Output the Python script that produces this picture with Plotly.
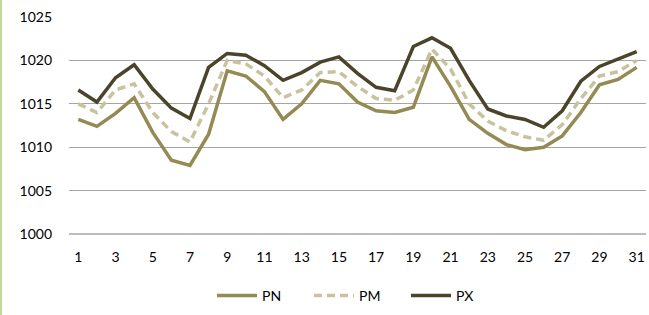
import plotly.graph_objects as go

days = list(range(1, 32))
pn = [1013.2, 1012.4, 1013.9, 1015.7, 1011.7, 1008.5, 1007.9, 1011.5, 1018.8, 1018.2,
      1016.4, 1013.2, 1015.0, 1017.7, 1017.3, 1015.2, 1014.2, 1014.0, 1014.6, 1020.4,
      1017.0, 1013.2, 1011.6, 1010.3, 1009.7, 1010.0, 1011.3, 1014.0, 1017.2, 1017.8, 1019.2]
pm = [1015.0, 1014.0, 1016.6, 1017.3, 1014.0, 1011.8, 1010.6, 1015.0, 1020.0, 1019.6,
      1018.2, 1015.7, 1016.6, 1018.6, 1018.7, 1017.0, 1015.6, 1015.4, 1016.6, 1021.3,
      1019.0, 1015.0, 1013.0, 1011.9, 1011.2, 1010.8, 1012.6, 1015.6, 1018.2, 1018.7, 1020.0]
px = [1016.6, 1015.2, 1018.0, 1019.5, 1016.7, 1014.5, 1013.3, 1019.2, 1020.8, 1020.6,
      1019.4, 1017.7, 1018.6, 1019.8, 1020.4, 1018.5, 1016.9, 1016.5, 1021.6, 1022.6,
      1021.4, 1017.7, 1014.4, 1013.6, 1013.2, 1012.3, 1014.2, 1017.6, 1019.3, 1020.2, 1021.0]
x_ticks = list(range(1, 32, 2))
y_ticks = [1000, 1005, 1010, 1015, 1020, 1025]

fig = go.Figure()
fig.add_trace(go.Scatter(x=days, y=pn, name="PN", mode="lines",
                         line=dict(color="#948A54", width=3.5)))
fig.add_trace(go.Scatter(x=days, y=pm, name="PM", mode="lines",
                         line=dict(color="#C9C29E", width=3.5, dash="8px,5px")))
fig.add_trace(go.Scatter(x=days, y=px, name="PX", mode="lines",
                         line=dict(color="#4A452A", width=3.5)))

fig.update_layout(
    width=649, height=315,
    margin=dict(l=69, r=3, t=17, b=81),
    paper_bgcolor="white", plot_bgcolor="white",
    font=dict(family="Lato, 'Open Sans', sans-serif", size=14, color="#000000"),
    showlegend=True,
    legend=dict(orientation="h", x=0.5, xanchor="center", y=-0.285, yanchor="middle",
                font=dict(size=14), itemwidth=40, entrywidth=42, traceorder="normal"),
    xaxis=dict(range=[0.5, 31.5], tickvals=x_ticks, showgrid=False, zeroline=False,
               showline=False, ticks="", ticklabelstandoff=13, fixedrange=True),
    yaxis=dict(range=[1000, 1025], tickvals=y_ticks, showgrid=True,
               gridcolor="#A6A6A6", gridwidth=1.3, zeroline=False, showline=False,
               ticks="", ticklabelstandoff=16, fixedrange=True),
    shapes=[dict(type="line", xref="paper", yref="paper", x0=0, x1=1, y0=0, y1=0,
                 line=dict(color="#A6A6A6", width=1.3)),
            dict(type="line", xref="paper", yref="paper", x0=-68/577, x1=-68/577,
                 y0=-81/217, y1=1 + 17/217, line=dict(color="#C3D69B", width=2))],
)

fig.write_html("out.html", config={"displayModeBar": False},
               post_script="document.body.style.margin='0';document.body.style.padding='0';")
